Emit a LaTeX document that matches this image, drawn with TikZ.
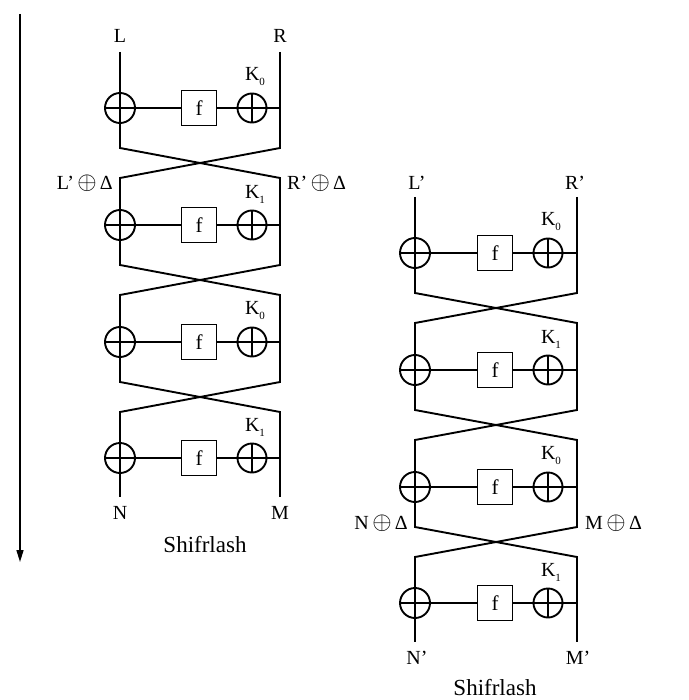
\documentclass[tikz,border=0pt]{standalone}
\usepackage{fontspec}
\setmainfont{Liberation Serif}
\usetikzlibrary{arrows.meta}

\tikzset{
    wire/.style={line width=1.9pt},
    xorgate/.style={circle, draw, line width=1.9pt, minimum size=30pt, inner sep=0pt,
        path picture={\draw[line width=1.9pt] (path picture bounding box.north) -- (path picture bounding box.south)
            (path picture bounding box.west) -- (path picture bounding box.east);}},
    fnbox/.style={draw, line width=1.9pt, minimum size=35pt, inner sep=0pt, font=\fontsize{21}{21}\selectfont},
    lbl/.style={font=\fontsize{20}{20}\selectfont, inner sep=0pt},
    title/.style={font=\fontsize{23}{24}\selectfont, inner sep=0pt}
}
\newcommand{\xr}{\,{\fontsize{25}{25}\selectfont$\oplus$}\,}

\begin{document}
\begin{tikzpicture}[x=1pt, y=-1pt]
    \useasboundingbox (0,0) rectangle (688,700);

    % Time axis
    \coordinate (tstart) at (20,14);
    \coordinate (tend) at (20,562);
    \draw[line width=1.5pt, -{Triangle[length=12pt, width=7pt]}] (tstart) -- (tend);

    % Left network
    \node[lbl] at (120,36) {L};
    \node[lbl] at (280,36) {R};
    \coordinate (la0) at (120,52);
    \coordinate (ra0) at (280,52);
    \foreach \r/\y/\k in {1/108/0, 2/225/1, 3/342/0, 4/458/1} {
        \node[xorgate] (xa\r) at (120,\y) {};
        \node[fnbox] (fa\r) at (199,\y) {f};
        \node[xorgate, minimum size=29pt] (ka\r) at (252,\y) {};
        \coordinate (ra\r) at (280,\y);
        \node[lbl] at (255,\y-31) {K\raisebox{-5pt}{\fontsize{11}{11}\selectfont\k}};
        \draw[wire] (xa\r) -- (fa\r) -- (ka\r) -- (ra\r);
    }
    \draw[wire] (la0) -- (xa1);
    \draw[wire] (ra0) -- (ra1);
    \foreach \r/\y in {1/108, 2/225, 3/342} {
        \pgfmathtruncatemacro\n{\r+1}
        \draw[wire] (xa\r) -- (120,\y+40) -- (280,\y+70) -- (ra\n);
        \draw[wire] (ra\r) -- (280,\y+40) -- (120,\y+70) -- (xa\n);
    }
    \coordinate (la5) at (120,497);
    \coordinate (ra5) at (280,497);
    \draw[wire] (xa4) -- (la5);
    \draw[wire] (ra4) -- (ra5);
    \node[lbl] at (120,513) {N};
    \node[lbl] at (280,513) {M};
    \node[lbl, anchor=east] at (113,183) {L'\xr Δ};
    \node[lbl, anchor=west] at (287,183) {R'\xr Δ};
    \node[title] at (205,545) {Shifrlash};

    % Right network
    \begin{scope}[shift={(295,145)}]
        \node[lbl] at (122,38) {L'};
        \node[lbl] at (280,38) {R'};
        \coordinate (lb0) at (120,52);
        \coordinate (rb0) at (282,52);
        \foreach \r/\y/\k in {1/108/0, 2/225/1, 3/342/0, 4/458/1} {
            \node[xorgate] (xb\r) at (120,\y) {};
            \node[fnbox] (fb\r) at (200,\y) {f};
            \node[xorgate, minimum size=29pt] (kb\r) at (253,\y) {};
            \coordinate (rb\r) at (282,\y);
            \node[lbl] at (256,\y-31) {K\raisebox{-5pt}{\fontsize{11}{11}\selectfont\k}};
            \draw[wire] (xb\r) -- (fb\r) -- (kb\r) -- (rb\r);
        }
        \draw[wire] (lb0) -- (xb1);
        \draw[wire] (rb0) -- (rb1);
        \foreach \r/\y in {1/108, 2/225, 3/342} {
            \pgfmathtruncatemacro\n{\r+1}
            \draw[wire] (xb\r) -- (120,\y+40) -- (282,\y+70) -- (rb\n);
            \draw[wire] (rb\r) -- (282,\y+40) -- (120,\y+70) -- (xb\n);
        }
        \coordinate (lb5) at (120,497);
        \coordinate (rb5) at (282,497);
        \draw[wire] (xb4) -- (lb5);
        \draw[wire] (rb4) -- (rb5);
        \node[lbl] at (122,513) {N'};
        \node[lbl] at (283,513) {M'};
        \node[lbl, anchor=east] at (113,378) {N\xr Δ};
        \node[lbl, anchor=west] at (290,378) {M\xr Δ};
        \node[title] at (200,543) {Shifrlash};
    \end{scope}
\end{tikzpicture}
\end{document}
